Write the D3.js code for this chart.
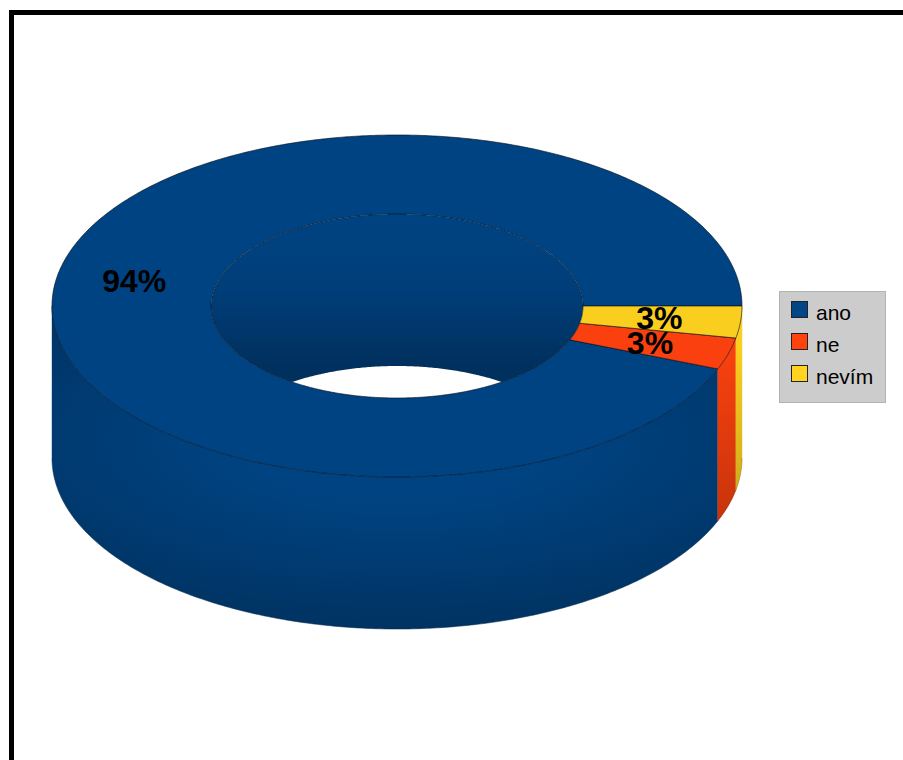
<!DOCTYPE html>
<html>
<head>
<meta charset="utf-8">
<script src="https://cdn.jsdelivr.net/npm/d3@7/dist/d3.min.js"></script>
<style>
html,body{margin:0;padding:0;background:#fff;overflow:hidden}
svg{display:block}
text{font-family:"Liberation Sans",Arial,sans-serif}
</style>
</head>
<body>
<script>
const categories = ["ano", "ne", "nevím"];
const seriesValues = [94, 3, 3];
const labels = ["94%", "3%", "3%"];
const palette = ["#004586", "#ff420e", "#ffd320"];

const W = 903, H = 760;
const cx = 397, cy = 306, rxOuter = 345, ryOuter = 171, rxInner = 186, ryInner = 92, depth = 152;
const svg = d3.select("body").append("svg").attr("width", W).attr("height", H);
const color = d3.scaleOrdinal(categories, palette);
const HALF = Math.PI / 2;

const pie = d3.pie().sort(null).startAngle(HALF).endAngle(HALF - 2 * Math.PI);
const arcs = pie(seriesValues).map((d, i) => ({...d, cat: categories[i], label: labels[i]}));

const pt = (a, rx, ry, dy = 0) => [cx + rx * Math.sin(a), cy - ry * Math.cos(a) + dy];
const samples = (a0, a1) => {
  const n = Math.max(2, Math.ceil(Math.abs(a1 - a0) / 0.01));
  return d3.range(n + 1).map(i => a0 + (a1 - a0) * i / n);
};
const line = d3.line();
const ring = (a0, a1, rx, ry, dy) => samples(a0, a1).map(a => pt(a, rx, ry, dy));

// intersect a slice's angular span with a visible window
function clip(d, lo, hi) {
  const s = Math.min(d.startAngle, d.endAngle), e = Math.max(d.startAngle, d.endAngle);
  let best = null;
  for (const k of [-2, 0, 2]) {
    const a = Math.max(s + k * Math.PI, lo), b = Math.min(e + k * Math.PI, hi);
    if (b > a && (!best || b - a > best[1] - best[0])) best = [a, b];
  }
  return best;
}

const defs = svg.append("defs");
const shade = (c, f) => { const r = d3.rgb(c); return d3.rgb(r.r * f, r.g * f, r.b * f).formatHex(); };
// the large wall is lit from its centre, the narrow ones fade downwards
const rg = defs.append("radialGradient").attr("id", "wall0")
  .attr("gradientUnits", "userSpaceOnUse").attr("cx", 0).attr("cy", 0).attr("r", 1)
  .attr("gradientTransform", `translate(${cx},${cy + 134}) scale(600,230)`);
rg.append("stop").attr("offset", 0.25).attr("stop-color", shade(palette[0], 0.97));
rg.append("stop").attr("offset", 1).attr("stop-color", shade(palette[0], 0.66));
[1, 2].forEach(i => {
  const g = defs.append("linearGradient").attr("id", "wall" + i)
    .attr("gradientUnits", "userSpaceOnUse").attr("x1", 0).attr("x2", 0)
    .attr("y1", cy + 40).attr("y2", cy + 210);
  g.append("stop").attr("offset", 0).attr("stop-color", shade(palette[i], 0.98));
  g.append("stop").attr("offset", 1).attr("stop-color", shade(palette[i], 0.79));
});
const gi = defs.append("linearGradient").attr("id", "inner")
  .attr("gradientUnits", "userSpaceOnUse").attr("x1", 0).attr("x2", 0)
  .attr("y1", cy - ryInner).attr("y2", cy - ryInner + depth);
gi.append("stop").attr("offset", 0).attr("stop-color", shade(palette[0], 0.97));
gi.append("stop").attr("offset", 0.5).attr("stop-color", shade(palette[0], 0.9));
gi.append("stop").attr("offset", 1).attr("stop-color", shade(palette[0], 0.7));
defs.append("clipPath").attr("id", "hole").append("path")
  .attr("d", line(ring(0, 2 * Math.PI, rxInner, ryInner, 0)) + "Z");

// outer wall, visible lower half only
arcs.forEach((d, i) => {
  const w = clip(d, HALF, 3 * HALF);
  if (!w) return;
  const top = ring(w[0], w[1], rxOuter, ryOuter, 0);
  const bot = ring(w[1], w[0], rxOuter, ryOuter, depth);
  svg.append("path").attr("d", line(top.concat(bot)) + "Z").attr("fill", `url(#wall${i})`)
    .attr("stroke", `url(#wall${i})`).attr("stroke-width", 0.4);
  svg.append("path").attr("d", line(bot)).attr("fill", "none")
    .attr("stroke", "#0a1a2a").attr("stroke-opacity", 0.4).attr("stroke-width", 0.5);
});

// inner wall, visible far half only, seen through the hole
arcs.forEach(d => {
  const w = clip(d, -HALF, HALF);
  if (!w) return;
  const top = ring(w[0], w[1], rxInner, ryInner, 0);
  const bot = ring(w[1], w[0], rxInner, ryInner, depth);
  svg.append("path").attr("d", line(top.concat(bot)) + "Z").attr("fill", "url(#inner)")
    .attr("clip-path", "url(#hole)");
});

// top faces
arcs.forEach(d => {
  const o = ring(d.startAngle, d.endAngle, rxOuter, ryOuter, 0);
  const n = ring(d.endAngle, d.startAngle, rxInner, ryInner, 0);
  svg.append("path").attr("d", line(o.concat(n)) + "Z").attr("fill", shade(color(d.cat), 0.975))
    .attr("stroke", "#050d18").attr("stroke-opacity", 0.9).attr("stroke-width", 0.7);
});

// value labels at the middle of each ring segment
const rxMid = (rxOuter + rxInner) / 2, ryMid = (ryOuter + ryInner) / 2;
arcs.forEach(d => {
  const p = pt((d.startAngle + d.endAngle) / 2, rxMid, ryMid);
  svg.append("text").attr("x", p[0] - 2).attr("y", p[1] + 11).attr("text-anchor", "middle")
    .attr("font-size", 32).attr("font-weight", "bold").attr("fill", "#000").text(d.label);
});

// legend
const lg = svg.append("g").attr("transform", "translate(779.5,291.5)");
lg.append("rect").attr("width", 106).attr("height", 111).attr("fill", "#cccccc").attr("stroke", "#b3b3b3");
const ly = d3.scalePoint(categories, [10, 74]);
categories.forEach(c => {
  lg.append("rect").attr("x", 12).attr("y", ly(c)).attr("width", 16).attr("height", 16)
    .attr("fill", color(c)).attr("stroke", "#222").attr("stroke-width", 1);
  lg.append("text").attr("x", 36.5).attr("y", ly(c) + 18).attr("font-size", 21).attr("fill", "#000").text(c);
});

// frame
svg.append("rect").attr("x", 9).attr("y", 10).attr("width", W).attr("height", 5).attr("fill", "#000");
svg.append("rect").attr("x", 9).attr("y", 10).attr("width", 5).attr("height", H).attr("fill", "#000");
</script>
</body>
</html>
